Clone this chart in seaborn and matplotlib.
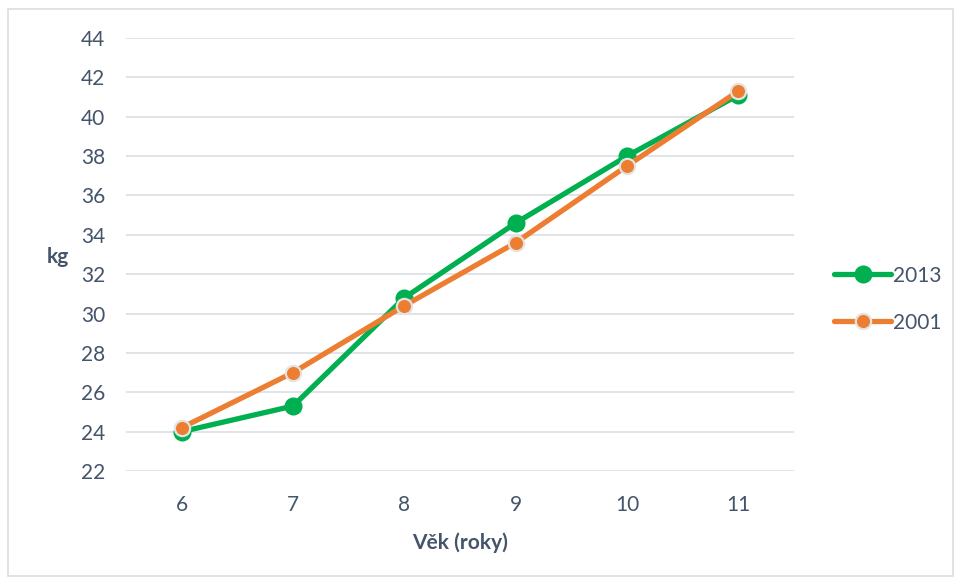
import matplotlib
matplotlib.use("Agg")
import matplotlib.pyplot as plt
import seaborn as sns
import pandas as pd
from matplotlib.patches import Rectangle

ages = [6, 7, 8, 9, 10, 11]
kg_2013 = [24.0, 25.3, 30.8, 34.6, 38.0, 41.1]
kg_2001 = [24.2, 27.0, 30.4, 33.6, 37.5, 41.3]
series_names = ["2013", "2001"]
y_ticks = [22, 24, 26, 28, 30, 32, 34, 36, 38, 40, 42, 44]

df = pd.DataFrame({
    "age": ages * 2,
    "kg": kg_2013 + kg_2001,
    "year": [series_names[0]] * len(ages) + [series_names[1]] * len(ages),
})

sns.set_theme(style="white")
plt.rcParams["font.family"] = ["Lato", "DejaVu Sans"]

text_col = "#44546A"
green = "#00B050"
orange = "#ED7D31"

fig = plt.figure(figsize=(9.57, 5.78), dpi=100)
ax = fig.add_axes([0.1317, 0.1851, 0.698, 0.7492])

for name, col, ms, mec, mew in [(series_names[0], green, 13, green, 0),
                                 (series_names[1], orange, 11, "#E3E3E3", 1.6)]:
    sub = df[df["year"] == name]
    sns.lineplot(data=sub, x="age", y="kg", ax=ax, color=col, linewidth=3.8,
                 marker="o", markersize=ms, markeredgecolor=mec,
                 markeredgewidth=mew, label=name, zorder=3)

ax.set_xlim(5.5, 11.5)
ax.set_ylim(22, 44)
ax.set_xticks(ages)
ax.set_yticks(y_ticks)
ax.tick_params(axis="both", length=0, labelsize=15, labelcolor=text_col)
ax.tick_params(axis="y", pad=15)
ax.tick_params(axis="x", pad=17)
ax.yaxis.grid(True, color="#DDE1E6", linewidth=1.3)
ax.xaxis.grid(False)
for s in ax.spines.values():
    s.set_visible(False)

ax.set_xlabel("Věk (roky)", fontsize=15, fontweight="bold", color=text_col)
ax.xaxis.set_label_coords(0.5, -0.142)
ax.set_ylabel("kg", fontsize=15, fontweight="bold", color=text_col, rotation=0,
              va="center", ha="center")
ax.yaxis.set_label_coords(-0.102, 0.495)

leg = ax.legend(loc="center left", bbox_to_anchor=(1.045, 0.397), frameon=False,
                fontsize=15, handlelength=2.7, labelspacing=1.3, handletextpad=0.1,
                borderpad=0)
for t in leg.get_texts():
    t.set_color(text_col)

fig.patches.append(Rectangle((0.008, 0.003), 0.988, 0.982, transform=fig.transFigure,
                             fill=False, edgecolor="#D9DDE3", linewidth=1.2))

fig.savefig("out.png", dpi=100)
